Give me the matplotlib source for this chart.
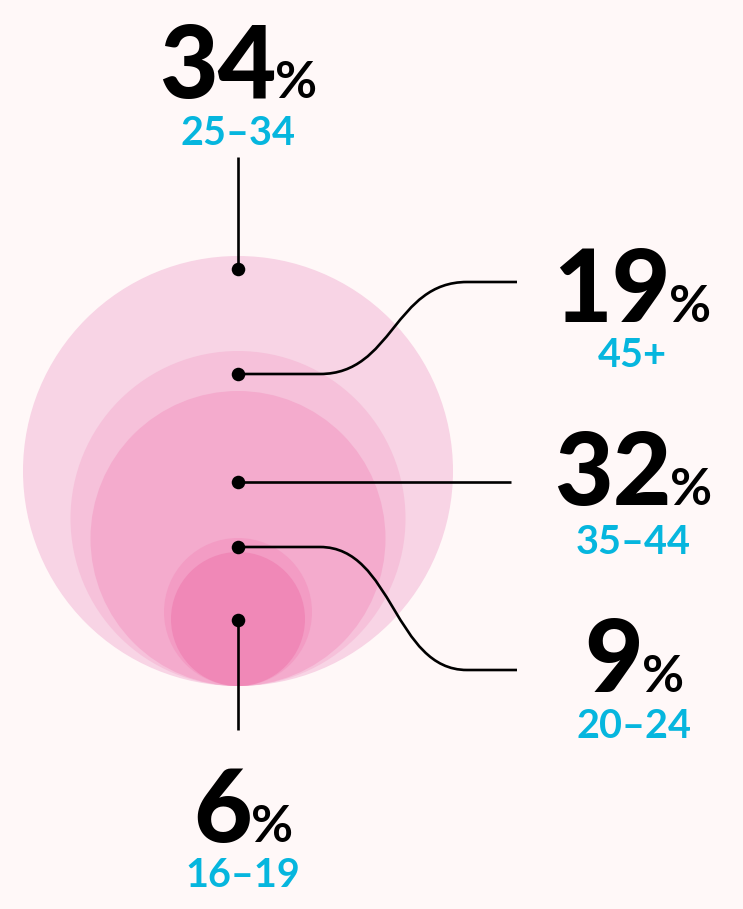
import matplotlib
matplotlib.use('Agg')
import matplotlib.pyplot as plt
from matplotlib.patches import Circle, PathPatch
from matplotlib.path import Path

# share of visitors by age group
values = [34, 19, 32, 9, 6]
age_groups = ['25–34', '45+', '35–44', '20–24', '16–19']

# layout (pixels)
radii = [215, 167.5, 147.5, 74, 67]
dot_y = [269, 374, 482, 547, 620]
fills = ['#f8d4e5', '#f6c1da', '#f4abcd', '#f39cc4', '#f088b7']
bg = '#fff8f8'
cyan = '#06b6de'
cx, bottom = 238, 686

plt.rcParams['font.family'] = ['Lato', 'DejaVu Sans']

fig = plt.figure(figsize=(7.43, 9.09), dpi=100)
fig.patch.set_facecolor(bg)
ax = fig.add_axes([0, 0, 1, 1])
ax.set_xlim(0, 743)
ax.set_ylim(909, 0)
ax.axis('off')
ax.set_facecolor(bg)

# nested circles, all touching at the bottom
for r, c in zip(radii, fills):
    ax.add_patch(Circle((cx, bottom - r), r, facecolor=c, edgecolor='none', zorder=1))

# connector lines
lw = 1.9
ax.plot([cx, cx], [157, dot_y[0]], color='black', lw=lw, zorder=3, solid_capstyle='butt')
ax.plot([cx, cx], [dot_y[4], 730], color='black', lw=lw, zorder=3, solid_capstyle='butt')
ax.plot([cx, 511], [dot_y[2], dot_y[2]], color='black', lw=lw, zorder=3, solid_capstyle='butt')


def s_curve(y0, y1):
    verts = [(cx, y0), (320, y0), (393, y0), (394, y1), (467, y1), (517, y1)]
    codes = [Path.MOVETO, Path.LINETO, Path.CURVE4, Path.CURVE4, Path.CURVE4, Path.LINETO]
    ax.add_patch(PathPatch(Path(verts, codes), facecolor='none', edgecolor='black', lw=lw, zorder=3))


s_curve(dot_y[1], 282)
s_curve(dot_y[3], 670)

ax.scatter([cx] * len(dot_y), dot_y, s=95, color='black', zorder=4, linewidths=0)

# labels
fig.canvas.draw()
renderer = fig.canvas.get_renderer()


def pct_label(x, base, val, group, sub_base):
    t1 = ax.text(0, base, str(val), fontsize=73, fontweight='black', va='baseline', ha='left', color='black')
    t2 = ax.text(0, base, '%', fontsize=37, fontweight='bold', va='baseline', ha='left', color='black')
    w1 = t1.get_window_extent(renderer).width
    w2 = t2.get_window_extent(renderer).width
    gap = -1
    left = x - (w1 + gap + w2) / 2
    t1.set_x(left)
    t2.set_x(left + w1 + gap)
    ax.text(x, sub_base, group, fontsize=28.5, fontweight='bold', color=cyan, ha='center', va='baseline')


label_x = [238, 632, 633, 634, 243]
label_base = [98, 322, 505, 692, 842]
sub_base = [145, 367, 554, 738, 887]
for i in range(len(values)):
    pct_label(label_x[i], label_base[i], values[i], age_groups[i], sub_base[i])

fig.savefig('out.png', dpi=100, facecolor=bg)
